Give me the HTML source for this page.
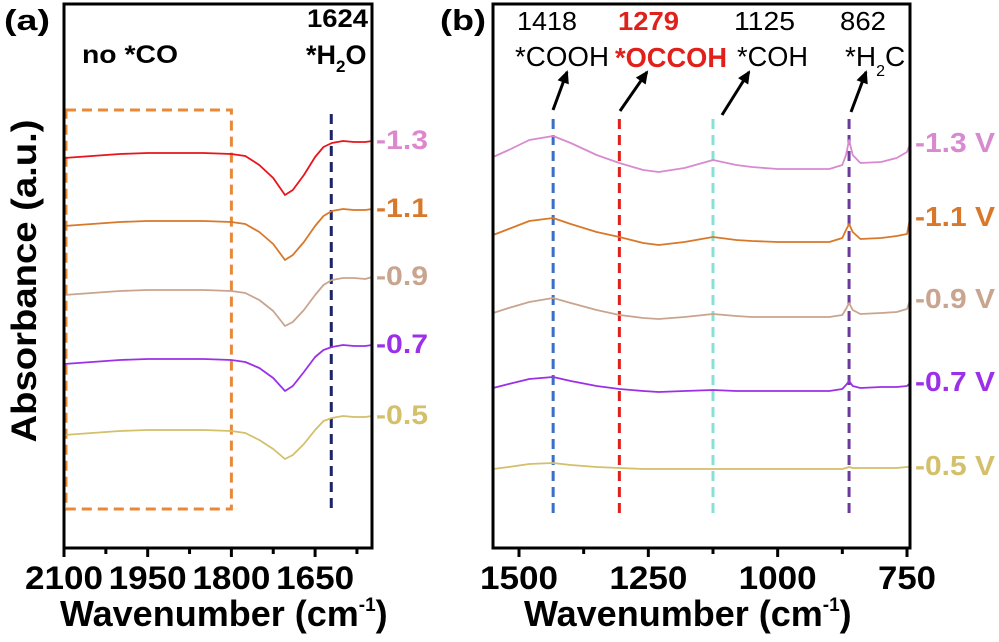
<!DOCTYPE html>
<html><head><meta charset="utf-8"><style>
html,body{margin:0;padding:0;background:#fff;}
svg{display:block;font-family:"Liberation Sans",Arial,sans-serif;}
</style></head><body>
<svg id="fig" width="999" height="642" viewBox="0 0 999 642" xmlns="http://www.w3.org/2000/svg">
<g id="pa"></g>
<g id="pb"></g>
</svg>
<script>
// ---- Panel (a) data ----
const aWavenumbers=[2100,2050,2000,1950,1900,1850,1800,1775,1750,1725,1704,1690,1670,1650,1635,1620,1600,1580,1560,1548];
const aSeriesNames=["-1.3","-1.1","-0.9","-0.7","-0.5"];
const aS13=[3.90,3.92,3.94,3.95,3.95,3.95,3.94,3.92,3.83,3.70,3.53,3.58,3.73,3.91,4.01,4.05,4.07,4.06,4.06,4.07];
const aS11=[3.22,3.24,3.26,3.27,3.27,3.27,3.26,3.24,3.16,3.04,2.88,2.93,3.06,3.22,3.32,3.37,3.39,3.38,3.38,3.39];
const aS09=[2.53,2.55,2.57,2.58,2.58,2.58,2.57,2.55,2.48,2.37,2.22,2.26,2.38,2.53,2.63,2.68,2.70,2.70,2.69,2.71];
const aS07=[1.84,1.86,1.88,1.89,1.89,1.89,1.88,1.86,1.80,1.70,1.57,1.62,1.76,1.91,1.98,2.01,2.03,2.02,2.02,2.03];
const aS05=[1.13,1.15,1.17,1.18,1.18,1.18,1.17,1.15,1.08,0.99,0.89,0.93,1.04,1.18,1.27,1.30,1.32,1.31,1.31,1.32];
const aTicks=[2100,1950,1800,1650];
const aMinorTicks=[2025,1875,1725,1575];
const aMarker=[1621];
// ---- Panel (b) data ----
const bWavenumbers=[1550,1520,1480,1434,1400,1350,1306,1260,1230,1180,1125,1080,1050,1000,950,900,875,868,862,855,840,800,770,750,744];
const bSeriesNames=["-1.3 V","-1.1 V","-0.9 V","-0.7 V","-0.5 V"];
const bS13=[3.91,3.98,4.08,4.12,4.05,3.93,3.85,3.78,3.76,3.80,3.88,3.83,3.81,3.79,3.79,3.79,3.83,3.93,4.08,3.93,3.85,3.86,3.90,3.96,4.04];
const bS11=[3.13,3.19,3.27,3.30,3.24,3.16,3.11,3.05,3.03,3.06,3.11,3.08,3.07,3.06,3.06,3.06,3.10,3.18,3.24,3.16,3.09,3.10,3.12,3.14,3.30];
const bS09=[2.35,2.40,2.46,2.50,2.45,2.38,2.33,2.30,2.29,2.31,2.34,2.32,2.31,2.31,2.31,2.31,2.33,2.39,2.45,2.38,2.34,2.35,2.36,2.39,2.48];
const bS07=[1.60,1.64,1.69,1.71,1.67,1.62,1.59,1.57,1.56,1.57,1.58,1.57,1.57,1.57,1.57,1.57,1.59,1.63,1.67,1.62,1.60,1.61,1.61,1.62,1.65];
const bS05=[0.79,0.81,0.84,0.85,0.83,0.81,0.80,0.79,0.79,0.79,0.79,0.79,0.79,0.79,0.79,0.79,0.79,0.80,0.81,0.80,0.80,0.80,0.80,0.81,0.81];
const bTicks=[1500,1250,1000,750];
const bMinorTicks=[1375,1125,875];
const bMarkers=[1434,1306,1125,862];
const bMarkerNums=["1418","1279","1125","862"];

const NS="http://www.w3.org/2000/svg";
function mk(parent,tag,attrs,text){const e=document.createElementNS(NS,tag);for(const k in attrs)e.setAttribute(k,attrs[k]);if(text!==undefined)e.textContent=text;parent.appendChild(e);return e;}
const yTop=4,yBot=548;
function yScale(v){return yBot-(v/5.44)*(yBot-yTop);}
function linScale(d0,d1,r0,r1){return v=>r0+(v-d0)/(d1-d0)*(r1-r0);}

const pa=document.getElementById('pa');
const pb=document.getElementById('pb');
let e;

// ===== Panel (a) =====
const axA=linScale(2100,1548,64,372);
e=mk(pa,'text',{x:4,y:30,'font-size':29,'font-weight':'bold',textLength:46,lengthAdjust:'spacingAndGlyphs'},'(a)');

e=mk(pa,'text',{x:0,y:0,'font-size':35,'font-weight':'bold','text-anchor':'middle',textLength:323,lengthAdjust:'spacingAndGlyphs',transform:'translate(36,281) rotate(-90)'},'Absorbance (a.u.)');

e=mk(pa,'rect',{x:66,y:110,width:axA(1800)-66,height:399,fill:'none',stroke:'#e8893a','stroke-width':3,'stroke-dasharray':'10,6'});

aMarker.forEach(w=>{e=mk(pa,'line',{x1:axA(w),x2:axA(w),y1:114,y2:509,stroke:'#1a2466','stroke-width':3,'stroke-dasharray':'10,6'});
});
const aSeries=[aS13,aS11,aS09,aS07,aS05];
const aLine=['#e8141a','#d8782a','#c9a48e','#9b30e8','#d4bf6a'];
const aLab=['#dd88cc','#d8782a','#c9a48e','#9b30e8','#d4bf6a'];
aSeries.forEach((s,i)=>{
 const d=s.map((v,j)=>(j?'L':'M')+axA(aWavenumbers[j]).toFixed(1)+','+yScale(v).toFixed(1)).join(' ');
 e=mk(pa,'path',{d:d,fill:'none',stroke:aLine[i],'stroke-width':1.8,'stroke-linejoin':'round'});
 
 e=mk(pa,'text',{x:376,y:yScale(s[s.length-1])+8,'font-size':27,'font-weight':'bold',fill:aLab[i],textLength:52,lengthAdjust:'spacingAndGlyphs'},aSeriesNames[i]);
 
});
e=mk(pa,'text',{x:82,y:63,'font-size':25,'font-weight':'bold',textLength:96,lengthAdjust:'spacingAndGlyphs'},'no *CO');

e=mk(pa,'text',{x:307,y:27,'font-size':25,'font-weight':'bold',textLength:61,lengthAdjust:'spacingAndGlyphs'},'1624');

e=mk(pa,'text',{x:306,y:64,'font-size':27,'font-weight':'bold'});
e.innerHTML='*H<tspan font-size="17" dy="8">2</tspan><tspan dy="-8">O</tspan>';

e=mk(pa,'rect',{x:64,y:4,width:308,height:544,fill:'none',stroke:'#000','stroke-width':3});

aTicks.forEach(t=>{const x=axA(t);
 mk(pa,'line',{x1:x,x2:x,y1:548,y2:557,stroke:'#000','stroke-width':3});
 e=mk(pa,'text',{x:x,y:589,'font-size':32,'font-weight':'bold','text-anchor':'middle',textLength:78,lengthAdjust:'spacingAndGlyphs'},String(t));
 });
aMinorTicks.forEach(t=>{const x=axA(t);mk(pa,'line',{x1:x,x2:x,y1:548,y2:554,stroke:'#000','stroke-width':3});});
e=mk(pa,'text',{x:60,y:626,'font-size':36,'font-weight':'bold'});
e.innerHTML='Wavenumber (cm<tspan font-size="19" dy="-15">-1</tspan><tspan dy="15">)</tspan>';


// ===== Panel (b) =====
const axB=linScale(1500,750,519,907);
e=mk(pb,'text',{x:440,y:30,'font-size':29,'font-weight':'bold',textLength:46,lengthAdjust:'spacingAndGlyphs'},'(b)');

const mCol=['#3a6fc8','#e0201b','#86e0d6','#6a3a9a'];
bMarkers.forEach((w,i)=>{e=mk(pb,'line',{x1:axB(w),x2:axB(w),y1:119,y2:514,stroke:mCol[i],'stroke-width':3,'stroke-dasharray':'10,6'});
 });
const bSeries=[bS13,bS11,bS09,bS07,bS05];
const bLine=['#d88ad0','#d8782a','#c9a48e','#9b30e8','#d4bf6a'];
bSeries.forEach((s,i)=>{
 const d=s.map((v,j)=>(j?'L':'M')+axB(bWavenumbers[j]).toFixed(1)+','+yScale(v).toFixed(1)).join(' ');
 e=mk(pb,'path',{d:d,fill:'none',stroke:bLine[i],'stroke-width':1.8,'stroke-linejoin':'round'});
 
 e=mk(pb,'text',{x:915,y:yScale(s[s.length-1])+8,'font-size':28,'font-weight':'bold',fill:bLine[i],textLength:80,lengthAdjust:'spacingAndGlyphs'},bSeriesNames[i]);
 
});
const annX=[517,618,734,840];
const annW=[60,61,61,46];
const annCol=['#000','#e0201b','#000','#000'];
bMarkerNums.forEach((n,i)=>{e=mk(pb,'text',{x:annX[i],y:30,'font-size':26,'font-weight':i==1?'bold':'normal',fill:annCol[i],textLength:annW[i],lengthAdjust:'spacingAndGlyphs'},n);
 });
e=mk(pb,'text',{x:515,y:66,'font-size':28,textLength:94,lengthAdjust:'spacingAndGlyphs'},'*COOH');
e=mk(pb,'text',{x:615,y:67,'font-size':28,'font-weight':'bold',fill:'#e0201b',textLength:112,lengthAdjust:'spacingAndGlyphs'},'*OCCOH');
e=mk(pb,'text',{x:737,y:66,'font-size':28,textLength:71,lengthAdjust:'spacingAndGlyphs'},'*COH');
e=mk(pb,'text',{x:845,y:66,'font-size':28});
e.innerHTML='*H<tspan font-size="16" dy="10">2</tspan><tspan dy="-10">C</tspan>';

const arrows=[[553,110,567,72],[620,111,647,72],[722,115,749,72],[851,112,866,72]];
arrows.forEach((a,i)=>{const [x1,y1,x2,y2]=a;
 e=mk(pb,'line',{x1:x1,y1:y1,x2:x2,y2:y2,stroke:'#000','stroke-width':3});
 
 const ang=Math.atan2(y2-y1,x2-x1),L=11,W=6;
 const bx=x2-L*Math.cos(ang),by=y2-L*Math.sin(ang);
 const px=-Math.sin(ang)*W,py=Math.cos(ang)*W;
 mk(pb,'polygon',{points:`${x2+2*Math.cos(ang)},${y2+2*Math.sin(ang)} ${bx+px},${by+py} ${bx-px},${by-py}`,fill:'#000'});
});
e=mk(pb,'rect',{x:493,y:4,width:417,height:544,fill:'none',stroke:'#000','stroke-width':3});

bTicks.forEach(t=>{const x=axB(t);
 mk(pb,'line',{x1:x,x2:x,y1:548,y2:557,stroke:'#000','stroke-width':3});
 e=mk(pb,'text',{x:x,y:589,'font-size':32,'font-weight':'bold','text-anchor':'middle',textLength:t>=1000?78:58,lengthAdjust:'spacingAndGlyphs'},String(t));
 });
bMinorTicks.forEach(t=>{const x=axB(t);mk(pb,'line',{x1:x,x2:x,y1:548,y2:554,stroke:'#000','stroke-width':3});});
e=mk(pb,'text',{x:524,y:626,'font-size':36,'font-weight':'bold'});
e.innerHTML='Wavenumber (cm<tspan font-size="19" dy="-15">-1</tspan><tspan dy="15">)</tspan>';

</script>
</body></html>
